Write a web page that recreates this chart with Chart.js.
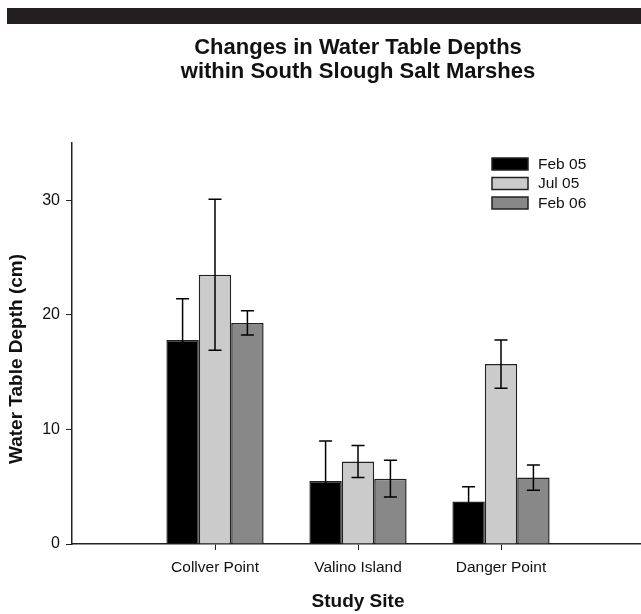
<!DOCTYPE html>
<html>
<head>
<meta charset="utf-8">
<script src="https://cdn.jsdelivr.net/npm/chart.js@4"></script>
<style>
  body { margin: 0; overflow: hidden; background: #fff; }
  #price { position: absolute; left: 0; top: 0; }
</style>
</head>
<body>
<canvas id="price" width="650" height="614"></canvas>
<script>
// sites and the three sampling dates
const sites = ['Collver Point', 'Valino Island', 'Danger Point'];
const seriesNames = ['Feb 05', 'Jul 05', 'Feb 06'];
const feb05 = [17.8, 5.5, 3.7];
const feb05Err = [3.6, 3.5, 1.3];
const jul05 = [23.5, 7.2, 15.7];
const jul05Err = [6.6, 1.4, 2.1];
const feb06 = [19.3, 5.7, 5.8];
const feb06Err = [1.05, 1.6, 1.1];
const yTicks = [0, 10, 20, 30];
const titleLines = ['Changes in Water Table Depths', 'within South Slough Salt Marshes'];

const colors = ['#000000', '#cbcbcb', '#888888'];
const ink = '#222';
const font = '"Liberation Sans", Arial, sans-serif';

// empty slots either side so the groups sit where the original has them
const pad = arr => [null, ...arr, null];
const labels = pad(sites);
const values = [feb05, jul05, feb06];
const errors = [feb05Err, jul05Err, feb06Err];

// whiskers on top of the bars
const errorBars = {
  id: 'errorBars',
  afterDatasetsDraw(chart) {
    const ctx = chart.ctx;
    const y = chart.scales.y;
    ctx.save();
    ctx.strokeStyle = '#000';
    ctx.lineWidth = 1.5;
    values.forEach((vals, i) => {
      const meta = chart.getDatasetMeta(i);
      vals.forEach((v, j) => {
        const bar = meta.data[j + 1];
        if (!bar) return;
        const top = y.getPixelForValue(v + errors[i][j]);
        const bot = y.getPixelForValue(v - errors[i][j]);
        ctx.beginPath();
        ctx.moveTo(bar.x, top); ctx.lineTo(bar.x, bot);
        ctx.moveTo(bar.x - 6.5, top); ctx.lineTo(bar.x + 6.5, top);
        ctx.moveTo(bar.x - 6.5, bot); ctx.lineTo(bar.x + 6.5, bot);
        ctx.stroke();
      });
    });
    ctx.restore();
  }
};

// band + title, legend in the top right of the plot, axis titles
const extras = {
  id: 'extras',
  afterDraw(chart) {
    const ctx = chart.ctx;
    const area = chart.chartArea;
    const cx = (area.left + area.right) / 2;
    ctx.save();
    ctx.fillStyle = '#231f20';
    ctx.fillRect(7, 8, 650, 16);

    ctx.fillStyle = '#111';
    ctx.font = 'bold 22px ' + font;
    ctx.textAlign = 'center';
    ctx.textBaseline = 'alphabetic';
    titleLines.forEach((t, i) => ctx.fillText(t, cx, 54 + i * 24));

    const lx = area.right - 152, ly = area.top + 15;
    seriesNames.forEach((name, i) => {
      const top = ly + i * 19.5;
      ctx.fillStyle = colors[i];
      ctx.fillRect(lx, top, 36, 12);
      ctx.strokeStyle = ink;
      ctx.lineWidth = 1.5;
      ctx.strokeRect(lx, top, 36, 12);
      ctx.fillStyle = '#111';
      ctx.font = '15.5px ' + font;
      ctx.textAlign = 'left';
      ctx.textBaseline = 'middle';
      ctx.fillText(name, lx + 46, top + 6.5);
    });

    ctx.font = 'bold 19px ' + font;
    ctx.fillStyle = '#111';
    ctx.textAlign = 'center';
    ctx.textBaseline = 'middle';
    ctx.fillText('Study Site', cx, 602);

    ctx.translate(17, 359);
    ctx.rotate(-Math.PI / 2);
    ctx.fillText('Water Table Depth (cm)', 0, 0);
    ctx.restore();
  }
};

new Chart(document.getElementById('price'), {
  type: 'bar',
  data: {
    labels: labels,
    datasets: values.map((vals, i) => ({
      label: seriesNames[i],
      data: pad(vals),
      backgroundColor: colors[i],
      borderColor: ink,
      borderWidth: 1.5,
      categoryPercentage: 0.68,
      barPercentage: 1
    }))
  },
  options: {
    responsive: false,
    animation: false,
    layout: { padding: { top: 143, right: 6, left: 0, bottom: 0 } },
    plugins: { legend: { display: false }, tooltip: { enabled: false } },
    scales: {
      x: {
        offset: false,
        border: { display: true, color: ink, width: 1.5 },
        grid: { offset: false, drawOnChartArea: false, drawTicks: true, tickLength: 6, color: ink, tickColor: ink },
        ticks: { color: '#111', font: { family: font, size: 15.5 }, padding: 8, maxRotation: 0, autoSkip: false },
        afterBuildTicks: s => { s.ticks = s.ticks.filter(t => labels[t.value]); },
        afterFit: s => { s.height = 70; }
      },
      y: {
        min: 0,
        max: 35,
        border: { display: true, color: ink, width: 1.5 },
        grid: { drawOnChartArea: false, drawTicks: true, tickLength: 6, color: ink, tickColor: ink },
        ticks: { color: '#111', font: { family: font, size: 16 }, padding: 6 },
        afterBuildTicks: s => { s.ticks = yTicks.map(v => ({ value: v })); },
        afterFit: s => { s.width = 72; }
      }
    }
  },
  plugins: [errorBars, extras]
});
</script>
</body>
</html>
